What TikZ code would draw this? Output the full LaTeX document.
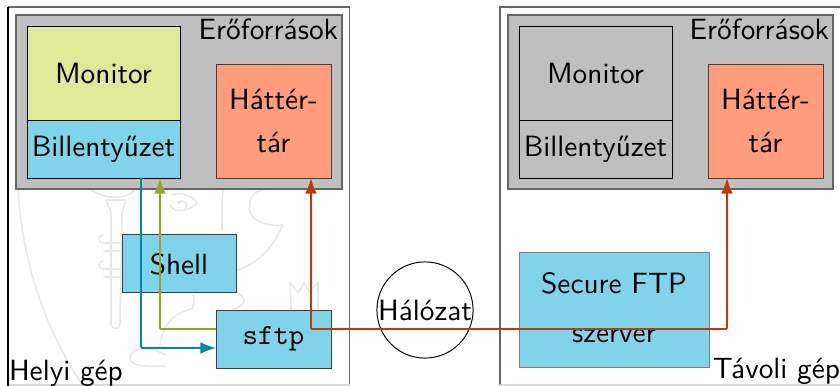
\documentclass[tikz,border=0pt]{standalone}
\usepackage{fontspec}
\renewcommand{\familydefault}{\sfdefault}
\usetikzlibrary{arrows.meta}
\definecolor{cblue}{HTML}{80D4EA}
\definecolor{cgreen}{HTML}{DFE998}
\definecolor{csalmon}{HTML}{FF9C7C}
\definecolor{cgrey}{HTML}{BFBFBF}
\definecolor{ablue}{HTML}{0088A8}
\definecolor{aolive}{HTML}{97A527}
\definecolor{ared}{HTML}{C23A08}
\definecolor{wmark}{HTML}{E8E8E8}
\tikzset{
  x=0.36pt,y=-0.36pt,
  every node/.style={font=\fontsize{10.55}{12.6}\selectfont},
  machine/.style={draw=black!60,line width=0.4pt},
  res/.style={draw=black!60,line width=0.4pt,fill=cgrey},
  cell/.style={draw=black,line width=0.35pt,inner sep=0pt,outer sep=0pt,align=center,anchor=north west},
  conn/.style={line width=0.6pt,rounded corners=0.4pt},
  tip/.style={-{Latex[length=5.6pt,width=4.2pt]}},
  lab/.style={inner sep=0pt,outer sep=0pt},
  logo/.style={draw=wmark,line width=0.55pt,line cap=round,line join=round},
}
\begin{document}
\begin{tikzpicture}
\useasboundingbox (0,0) rectangle (840,386);
\fill[white] (0,0) rectangle (840,386);
% faint watermark behind the left machine
\draw[logo] (18,190) .. controls (22,260) and (45,330) .. (82,384);
\draw[logo] (90,189) .. controls (105,200) and (125,200) .. (135,190);
\draw[logo] (106,200) -- (126,200) -- (122,212) -- (120,324) .. controls (120,330) and (111,330) .. (111,324) -- (111,212) -- cycle;
\draw[logo] (104,243) -- (121,243) (104,251) -- (121,251) (104,269) -- (121,269) (104,277) -- (121,277);
\draw[logo] (103,243) arc[start angle=90,end angle=270,radius=4];
\draw[logo] (103,269) arc[start angle=90,end angle=270,radius=4];
\draw[logo] (237,270) .. controls (255,265) and (272,250) .. (283,225) .. controls (262,228) and (245,215) .. (250,205) .. controls (250,192) and (258,190) .. (270,189);
\draw[logo] (223,190) .. controls (222,205) and (222,215) .. (222,230);
\draw[logo] (172,195) .. controls (180,192) and (192,195) .. (197,203) .. controls (188,212) and (175,214) .. (170,205);
\draw[logo] (178,203) .. controls (184,198) and (190,204) .. (184,210);
\draw[logo] (237,292) .. controls (245,298) and (250,303) .. (232,310);
\draw[logo] (193,295) .. controls (195,302) and (193,305) .. (192,309) .. controls (175,312) and (162,325) .. (160,345);
\draw[logo] (290,282) -- (298,293) -- (304,283) -- (310,292) -- (318,282) -- (318,309) (290,282) -- (291,309);
\draw[logo] (165,355) .. controls (150,345) and (130,348) .. (130,357) .. controls (129,366) and (145,367) .. (165,366);
% machines
\draw[machine] (850,7) -- (500,7) -- (500,385);
\draw[draw=black!15,line width=0.4pt] (500,385) -- (850,385);
\draw[machine] (8,7) -- (349.5,7) -- (349.5,385);
\draw[draw=black!15,line width=0.4pt] (8,385) -- (349.5,385);
\draw[draw=black,line width=0.4pt] (8,7) -- (8,386);
\draw[res] (16,15) rectangle (342,189);
\draw[res] (508,15) rectangle (833,189);
% left boxes
\node[cell,fill=cgreen,minimum width=55.08pt,minimum height=33.84pt] (mon) at (27,26) {Monitor};
\node[cell,fill=cblue,minimum width=55.08pt,minimum height=20.88pt] (kbd) at (27,120) {Billentyűzet};
\node[cell,fill=csalmon,draw=black!75,minimum width=41.4pt,minimum height=41.04pt] (hdd) at (216,64) {Háttér-\\[3pt]tár};
\node[cell,fill=cblue,draw=black!75,minimum width=41.04pt,minimum height=20.88pt] (shell) at (122,234) {};
\node[lab] (shelltxt) at (179,264) {Shell};
\node[cell,fill=cblue,draw=black!75,minimum width=41.4pt,minimum height=20.88pt] (sftp) at (216,310) {\ttfamily sftp};
% right boxes
\node[cell,fill=cgrey,minimum width=55.08pt,minimum height=33.84pt] (rmon) at (519,26) {Monitor};
\node[cell,fill=cgrey,minimum width=55.08pt,minimum height=20.88pt] (rkbd) at (519,120) {Billentyűzet};
\node[cell,fill=csalmon,draw=black!75,minimum width=41.4pt,minimum height=41.04pt] (rhdd) at (708,64) {Háttér-\\[3pt]tár};
\node[cell,fill=cblue,draw=black!50,minimum width=68.4pt,minimum height=41.4pt] (ftp) at (519,252) {};
\node[lab] (ftp1) at (614,283) {Secure FTP};
\node[lab] (ftp2) at (614,336) {szerver};
% network
\node[circle,draw=black,line width=0.35pt,minimum size=34.56pt,inner sep=0pt] (net) at (425,310) {Hálózat};
% labels
\node[lab,anchor=base west] (l1) at (9,380) {Helyi gép};
\node[lab,anchor=base east] (l2) at (840,378) {Távoli gép};
\node[lab,anchor=base east] (e1) at (338,40) {Erőforrások};
\node[lab,anchor=base east] (e2) at (829,40) {Erőforrások};
% connectors
\coordinate (a1) at (141,348);
\coordinate (b1) at (160,329);
\coordinate (c1) at (311,329);
\coordinate (c2) at (727,329);
\draw[conn,ablue,tip] (kbd.south -| a1) -- (a1) -- (sftp.west |- a1);
\draw[conn,aolive,tip] (sftp.west |- b1) -- (b1) -- (kbd.south -| b1);
\draw[conn,ared,tip] (c1) -- (c2) -- (rhdd.south -| c2);
\draw[conn,ared,tip] (c2) -- (c1) -- (hdd.south -| c1);
\end{tikzpicture}
\end{document}
